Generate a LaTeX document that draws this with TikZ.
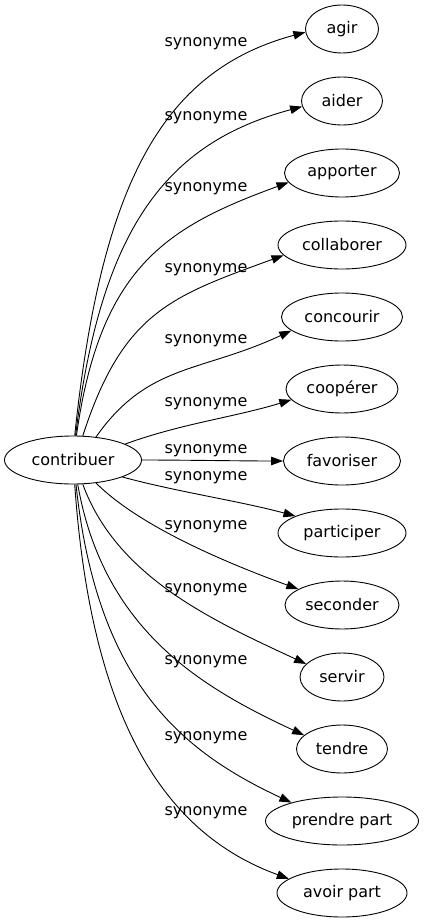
\documentclass[tikz,border=0pt]{standalone}
\usepackage{fontspec}
\setmainfont{DejaVu Sans}
\usetikzlibrary{arrows.meta, shapes.geometric}
\tikzset{wordnode/.style={ellipse, draw=black, line width=0.9pt, inner sep=0pt, minimum height=48pt},
synlabel/.style={inner sep=0pt},
synedge/.style={-{Triangle[length=12pt, width=8.5pt]}, line width=0.9pt}}

\begin{document}
\begin{tikzpicture}[x=1pt, y=1pt, font=\fontsize{16pt}{19pt}\selectfont]
    \useasboundingbox (0, 0) rectangle (425, -923);

    % Source word
    \node[wordnode, minimum width=137pt] (contribuer) at (73, -460) {contribuer};

    % Synonyms
    \foreach \n/\txt/\y/\w in {agir/agir/29/73, aider/aider/101/81, apporter/apporter/173/115, collaborer/collaborer/245/128, concourir/concourir/317/121, cooperer/coopérer/389/112, favoriser/favoriser/461/117, participer/participer/533/128, seconder/seconder/605/114, servir/servir/677/84, tendre/tendre/749/91, prendre/prendre part/821/153, avoir/avoir part/893/130} {
        \node[wordnode, minimum width=\w pt] (\n) at (342, -\y) {\txt};
    }

    % Edges and their labels
    \foreach \n/\ly/\sa/\oa/\ca/\ea/\ia/\cb in {agir/44/86/84/250/185/195/150, aider/118/84/83/210/188/195/140, apporter/189/82/82/170/190/200/130, collaborer/270/68/72/130/190/200/120, concourir/341/45/55/90/195/205/100, cooperer/404/17/20/60/192/197/60, favoriser/451/0/0/40/180/180/40, participer/478/-19/-15/60/160/165/60, seconder/527/-45/-45/60/160/160/80, servir/590/-68/-70/100/160/155/100, tendre/662/-79/-80/150/160/155/110, prendre/738/-83/-84/200/160/155/120, avoir/813/-86/-86/240/165/160/130} {
        \draw[synedge] (contribuer.\sa) .. controls +(\oa:\ca) and +(\ia:\cb) .. (\n.\ea);
        \node[synlabel] (l\n) at (206, -\ly) {synonyme};
    }
\end{tikzpicture}
\end{document}
